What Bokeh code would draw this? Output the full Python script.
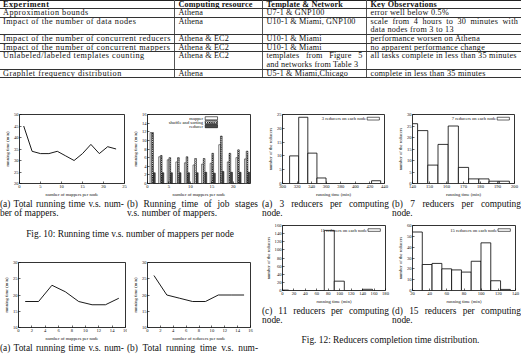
from bokeh.plotting import figure
from bokeh.models import Range1d, FixedTicker, Label, BoxAnnotation, Div
from bokeh.layouts import row, column
from bokeh.transform import dodge
from bokeh.embed import file_html
from bokeh.resources import INLINE

SERIF = "Liberation Serif"
TICK_FS = "4.6px"
TXT_FS = "9.4px"
TABLE_FS = "8.2px"

# ---------------- table data ----------------
table_header = ["Experiment", "Computing resource", "Template &amp; Network", "Key Observations"]
experiments = ["Approximation bounds", "Impact of the number of data nodes",
               "Impact of the number of concurrent reducers", "Impact of the number of concurrent mappers",
               "Unlabeled/labeled templates counting", "Graphlet frequency distribution"]
resources = ["Athena", "Athena", "Athena &amp; EC2", "Athena &amp; EC2", "Athena &amp; EC2", "Athena"]
templates = ["U7-1 &amp; GNP100", "U10-1 &amp; Miami, GNP100", "U10-1 &amp; Miami", "U10-1 &amp; Miami",
             ["templates from Figure 5", "and networks from Table 3"], "U5-1 &amp; Miami,Chicago"]
observations = ["error well below 0.5%", ["scale from 4 hours to 30 minutes with", "data nodes from 3 to 13"],
                "performance worsen on Athena", "no apparent performance change",
                "all tasks complete in less than 35 minutes", "complete in less than 35 minutes"]

# ---------------- Fig. 10 data ----------------
mappers_per_node = [1, 3, 5, 7, 9, 11, 13, 15, 17, 19, 21, 23]
total_time_vs_mappers = [45, 34, 33, 33, 34, 32, 30, 33, 37, 33, 36, 35]
mapper_stage = [11.8, 6.2, 5.5, 5.0, 4.8, 4.3, 4.5, 4.7, 9.0, 5.0, 6.0, 5.7]
shuffle_stage = [11.8, 6.5, 6.0, 6.0, 6.2, 5.8, 5.8, 7.0, 11.0, 7.0, 7.8, 7.5]
reducer_stage = [2.5, 2.5, 2.5, 2.5, 2.5, 2.5, 2.6, 2.4, 2.8, 2.6, 2.6, 2.6]
fig10a_xticks = [0, 5, 10, 15, 20, 25]
fig10a_yticks = [20, 25, 30, 35, 40, 45, 50]
fig10b_xticks = [0, 5, 10, 15, 20]
fig10b_yticks = [0, 2, 4, 6, 8, 10, 12, 14, 16]

# ---------------- Fig. 11 data ----------------
nodes_fig11 = [1, 3, 5, 7, 9, 11, 13, 15]
total_time_fig11_mappers = [18, 18, 23, 21, 18, 17, 17, 19]
total_time_fig11_reducers = [26, 20, 19, 18, 18, 20, 20, 20]
fig11_xticks = [0, 2, 4, 6, 8, 10, 12, 14, 16]
fig11_yticks = [10, 15, 20, 25, 30]

# ---------------- Fig. 12 data ----------------
r3_time = [316, 328.5, 341, 353.5, 428.5]
r3_count = [10, 24, 11, 2, 1]
r7_time = [140, 146, 152, 158, 164, 170, 176, 182, 188, 194]
r7_count = [26, 23, 8, 17, 25, 7, 2, 2, 1, 1]
r11_time = [2, 81.75, 99.25, 148.5]
r11_count = [1, 148, 23, 3]
r15_time = [25.7, 37.1, 48.5, 59.9, 71.3, 82.7, 94.1, 105.5, 116.9, 128.3]
r15_count = [54, 24, 25, 20, 19, 17, 27, 44, 9, 1]
r3_xticks = [300, 320, 340, 360, 380, 400, 420, 440]
r3_yticks = [0, 5, 10, 15, 20, 25]
r7_xticks = [140, 150, 160, 170, 180, 190, 200]
r7_yticks = [0, 5, 10, 15, 20, 25, 30]
r11_xticks = [0, 20, 40, 60, 80, 100, 120, 140, 160, 180]
r11_yticks = [0, 20, 40, 60, 80, 100, 120, 140, 160]
r15_xticks = [20, 40, 60, 80, 100, 120, 140]
r15_yticks = [0, 10, 20, 30, 40, 50, 60]


def style_axis(ax, ticks, label):
    ax.ticker = FixedTicker(ticks=ticks, minor_ticks=[])
    ax.major_tick_in = 2
    ax.major_tick_out = 0
    ax.minor_tick_line_color = None
    ax.axis_line_color = None
    ax.major_tick_line_color = "black"
    ax.major_tick_line_width = 0.6
    ax.major_label_text_font = SERIF
    ax.major_label_text_color = "#111111"
    ax.major_label_text_font_size = TICK_FS
    ax.major_label_standoff = 1
    ax.axis_label = label
    ax.axis_label_text_font = SERIF
    ax.axis_label_text_font_size = TICK_FS
    ax.axis_label_text_font_style = "normal"
    ax.axis_label_text_color = "#111111"
    ax.axis_label_standoff = 1


def make_plot(bl, fw, br, bt, fh, bb, xr, yr, xt, yt, xlab, ylab):
    p = figure(width=bl + fw + br, height=bt + fh + bb,
               x_range=Range1d(*xr), y_range=Range1d(*yr),
               output_backend="svg", toolbar_location=None, tools="",
               min_border_left=bl, min_border_right=br,
               min_border_top=bt, min_border_bottom=bb, margin=(0, 0, 0, 0))
    p.grid.visible = False
    p.outline_line_color = "black"
    p.outline_line_width = 0.8
    p.outline_line_alpha = 1
    p.background_fill_color = "white"
    p.border_fill_color = "white"
    style_axis(p.xaxis[0], xt, xlab)
    style_axis(p.yaxis[0], yt, ylab)
    return p


def add_key(p, entries, tx, sx0, sx1, fy0, dy, bh):
    xr, yr = p.x_range, p.y_range
    X = lambda f: xr.start + f * (xr.end - xr.start)
    Y = lambda f: yr.end - f * (yr.end - yr.start)
    for i, (label, style) in enumerate(entries):
        fy = fy0 + i * dy
        p.add_layout(Label(x=X(tx), y=Y(fy), text=label, text_align="right",
                           text_baseline="middle", text_font=SERIF,
                           text_font_size=TICK_FS, text_color="#111111"))
        box = dict(fill_color="white", fill_alpha=1, line_color="black", line_alpha=1, line_width=0.6)
        box.update(style)
        p.add_layout(BoxAnnotation(left=X(sx0), right=X(sx1), top=Y(fy - bh / 2),
                                   bottom=Y(fy + bh / 2), **box))


MAPPER_STYLE = dict(fill_color="white")
SHUFFLE_STYLE = dict(fill_color="white", hatch_pattern="diagonal_cross", hatch_scale=2.2,
                     hatch_weight=0.7, hatch_color="black")
REDUCER_STYLE = dict(fill_color="#4a4a4a")

# ---- Fig 10a ----
f10a = make_plot(19, 105, 3, 19, 70, 15, (0, 25), (20, 50), fig10a_xticks, fig10a_yticks,
                 "number of mappers per node", "running time (min)")
f10a.line(mappers_per_node, total_time_vs_mappers, line_color="black", line_width=0.9)

# ---- Fig 10b ----
f10b = make_plot(20, 103, 10, 19, 70, 15, (0, 24), (0, 16), fig10b_xticks, fig10b_yticks,
                 "number of mappers per node", "running time (min)")
src = dict(x=mappers_per_node, m=mapper_stage, s=shuffle_stage, r=reducer_stage)
f10b.vbar(x=dodge("x", -0.2), top="m", width=0.4, source=src, line_color="black",
          line_width=0.5, **MAPPER_STYLE)
f10b.vbar(x=dodge("x", 0.2), top="s", width=0.4, source=src, line_color="black",
          line_width=0.5, **SHUFFLE_STYLE)
f10b.vbar(x=dodge("x", 0.6), top="r", width=0.4, source=src, line_color="black",
          line_width=0.5, **REDUCER_STYLE)
add_key(f10b, [("mapper", MAPPER_STYLE), ("shuffle and sorting", SHUFFLE_STYLE),
               ("reducer", REDUCER_STYLE)], 0.54, 0.56, 0.68, 0.055, 0.057, 0.045)

# ---- Fig 11 ----
f11a = make_plot(18, 107, 2, 18, 67, 14, (0, 16), (10, 30), fig11_xticks, fig11_yticks,
                 "number of mappers per node", "running time (min)")
f11a.line(nodes_fig11, total_time_fig11_mappers, line_color="black", line_width=0.9)
f11b = make_plot(20, 103, 10, 18, 67, 14, (0, 16), (10, 30), fig11_xticks, fig11_yticks,
                 "number of reducers per node", "running time (min)")
f11b.line(nodes_fig11, total_time_fig11_reducers, line_color="black", line_width=0.9)


# ---- Fig 12 ----
def hist(p, xs, counts, width, label, fy):
    p.vbar(x=xs, top=counts, width=width, fill_color="white", line_color="black", line_width=0.8)
    add_key(p, [(label, dict())], 0.82, 0.83, 0.95, fy, 0.05, 0.04)


f12a = make_plot(22, 102, 6, 19, 69, 16, (300, 440), (0, 25), r3_xticks, r3_yticks,
                 "running time (min)", "number of the reducers")
hist(f12a, r3_time, r3_count, 12.5, "3 reducers on each node", 0.06)
f12b = make_plot(22, 102, 7, 19, 69, 16, (140, 200), (0, 30), r7_xticks, r7_yticks,
                 "running time (min)", "number of the reducers")
hist(f12b, r7_time, r7_count, 6, "7 reducers on each node", 0.06)
f12c = make_plot(22, 103, 5, 5, 71, 10, (0, 180), (0, 160), r11_xticks, r11_yticks,
                 "running time (min)", "number of the reducers")
hist(f12c, r11_time, r11_count, 17.5, "11 reducers on each node", 0.07)
f12d = make_plot(22, 103, 6, 5, 71, 10, (20, 140), (0, 60), r15_xticks, r15_yticks,
                 "running time (min)", "number of the reducers")
hist(f12d, r15_time, r15_count, 11.4, "15 reducers on each node", 0.07)


# ---------------- text blocks ----------------
def text_block(w, h, lines):
    parts = []
    for (x, y, lw, txt, align) in lines:
        st = "position:absolute;left:%gpx;top:%gpx;width:%gpx;white-space:nowrap;" % (x, y, lw)
        if align == "justify":
            st += "text-align:justify;text-align-last:justify;"
        else:
            st += "text-align:%s;" % align
        parts.append('<div style="%s">%s</div>' % (st, txt))
    html = ('<div style="position:relative;width:%dpx;height:%dpx;overflow:hidden;'
            'font-family:\'%s\';font-size:%s;line-height:9.5px;color:#111">%s</div>'
            % (w, h, SERIF, TXT_FS, "".join(parts)))
    return Div(text=html, width=w, height=h, margin=(0, 0, 0, 0))


def cell(v, bold=False):
    if isinstance(v, list):
        inner = ('<div style="line-height:8.3px">'
                 '<div style="text-align:justify;text-align-last:justify">%s</div><div>%s</div></div>'
                 % (v[0], v[1]))
    else:
        inner = v
    if bold:
        inner = "<b>%s</b>" % inner
    return inner


col_w = [174, 88, 104, 155]
col_spacing = ["0.5px", "0.15px", "0.15px", "0.25px"]
rows_html = []
all_rows = [(table_header, True)] + [([e, r, t, o], False) for e, r, t, o in
                                     zip(experiments, resources, templates, observations)]
for i, (vals, bold) in enumerate(all_rows):
    tds = []
    for j, v in enumerate(vals):
        st = ("padding:0 3px 0 %dpx;vertical-align:top;white-space:nowrap;overflow:hidden;"
              "border-bottom:1px solid #333;letter-spacing:%s;" % (3 if j == 0 else 4, col_spacing[j]))
        if i == 0:
            st += "border-top:1px solid #222;"
        if j < 3:
            st += "border-right:1px solid #555;"
        tds.append('<td style="%s">%s</td>' % (st, cell(v, bold)))
    rows_html.append("<tr>%s</tr>" % "".join(tds))
table_html = ('<div style="position:relative;width:521px;height:95px;overflow:hidden">'
              '<table style="position:absolute;left:0;top:0;border-collapse:collapse;table-layout:fixed;'
              'width:521px;font-family:\'%s\';font-size:%s;line-height:7.4px;color:#111">'
              '<colgroup>%s</colgroup>%s</table></div>'
              % (SERIF, TABLE_FS, "".join('<col style="width:%dpx">' % w for w in col_w), "".join(rows_html)))
table_div = Div(text=table_html, width=521, height=95, margin=(0, 0, 0, 0))

cap10ab = text_block(260, 21, [
    (0, 0.5, 124, "(a) Total running time v.s. num-", "justify"),
    (0, 10, 124, "ber of mappers.", "left"),
    (127, 0.5, 131, "(b) Running time of job stages", "justify"),
    (127, 10, 131, "v.s. number of mappers.", "left")])
cap10 = text_block(260, 24, [(0, 9.5, 260, "Fig. 10: Running time v.s. number of mappers per node", "center")])
cap11ab = text_block(260, 11, [
    (0, 0, 124, "(a) Total running time v.s. num-", "justify"),
    (127, 0, 131, "(b) Total running time v.s. num-", "justify")])

cap12ab = text_block(261, 21, [
    (2, 0.5, 127, "(a) 3 reducers per computing", "justify"),
    (2, 10, 127, "node.", "left"),
    (132, 0.5, 129, "(b) 7 reducers per computing", "justify"),
    (132, 10, 129, "node.", "left")])
cap12cd = text_block(261, 20, [
    (2, 0.5, 127, "(c) 11 reducers per computing", "justify"),
    (2, 10, 127, "node.", "left"),
    (132, 0.5, 129, "(d) 15 reducers per computing", "justify"),
    (132, 10, 129, "node.", "left")])
cap12 = text_block(261, 28, [(0, 10, 261, "Fig. 12: Reducers completion time distribution.", "center")])

left_col = column(row(f10a, f10b, spacing=0), cap10ab, cap10, row(f11a, f11b, spacing=0), cap11ab, spacing=0)
right_col = column(row(f12a, f12b, spacing=0), cap12ab, row(f12c, f12d, spacing=0), cap12cd, cap12, spacing=0)
page = column(table_div, row(left_col, right_col, spacing=0), spacing=0)

open("out.html", "w").write(file_html(page, INLINE))
